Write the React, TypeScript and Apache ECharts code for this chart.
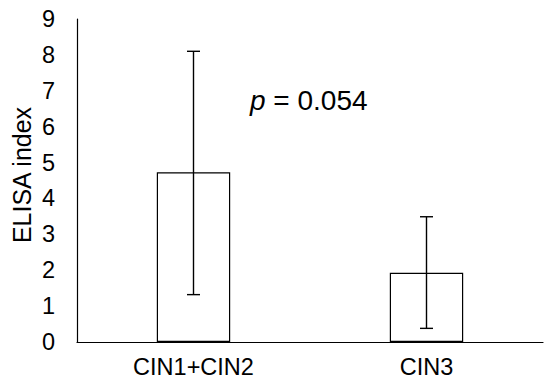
import React, { useEffect, useRef } from "react";
import * as echarts from "echarts";

const categories = ["CIN1+CIN2", "CIN3"];
const means = [4.73, 1.93];
const errLow = [1.32, 0.38];
const errHigh = [8.1, 3.49];
const yTicks = [0, 9, 1];

const FONT = "'Liberation Sans', Arial, sans-serif";

export default function App() {
  const ref = useRef<HTMLDivElement>(null);
  useEffect(() => {
    const chart = echarts.init(ref.current!, null, { renderer: "svg" });
    const errData = categories.map((_, i) => [i, errLow[i], errHigh[i]]);
    chart.setOption({
      animation: false,
      backgroundColor: "#ffffff",
      grid: { left: 77, right: 7, top: 19, bottom: 44, containLabel: false },
      xAxis: {
        type: "category",
        data: categories,
        axisLine: { lineStyle: { color: "#000", width: 1.2 } },
        axisTick: { show: false },
        axisLabel: { color: "#000", fontSize: 23.5, fontFamily: FONT, margin: 13 },
      },
      yAxis: {
        type: "value",
        min: yTicks[0],
        max: yTicks[1],
        interval: yTicks[2],
        splitLine: { show: false },
        axisLine: { show: true, lineStyle: { color: "#000", width: 1.2 } },
        axisTick: { show: false },
        axisLabel: { color: "#000", fontSize: 23.5, fontFamily: FONT, margin: 22 },
      },
      series: [
        {
          type: "bar",
          data: means,
          barWidth: "31.5%",
          itemStyle: { color: "#ffffff", borderColor: "#000", borderWidth: 1.2 },
        },
        {
          type: "custom",
          data: errData,
          z: 10,
          renderItem: (params: any, api: any) => {
            const x = api.value(0);
            const lo = api.coord([x, api.value(1)]);
            const hi = api.coord([x, api.value(2)]);
            const cap = 6.5;
            const style = { stroke: "#000", lineWidth: 1.4 };
            return {
              type: "group",
              children: [
                { type: "line", shape: { x1: hi[0], y1: hi[1], x2: lo[0], y2: lo[1] }, style },
                { type: "line", shape: { x1: hi[0] - cap, y1: hi[1], x2: hi[0] + cap, y2: hi[1] }, style },
                { type: "line", shape: { x1: lo[0] - cap, y1: lo[1], x2: lo[0] + cap, y2: lo[1] }, style },
              ],
            };
          },
        },
      ],
      graphic: [
        {
          type: "text",
          x: 22,
          y: 175,
          rotation: Math.PI / 2,
          style: {
            text: "ELISA index",
            fontSize: 25,
            fontFamily: FONT,
            fill: "#000",
            align: "center",
            verticalAlign: "middle",
          },
        },
        {
          type: "text",
          x: 250,
          y: 100,
          style: {
            text: "{i|p} = 0.054",
            fontSize: 28,
            fontFamily: FONT,
            fill: "#000",
            align: "left",
            verticalAlign: "middle",
            rich: {
              i: { fontStyle: "italic", fontSize: 28, fontFamily: FONT, fill: "#000" },
            },
          },
        },
      ],
    });
    return () => chart.dispose();
  }, []);
  return <div ref={ref} style={{ width: 550, height: 386, position: "absolute", left: 0, top: 0 }} />;
}
